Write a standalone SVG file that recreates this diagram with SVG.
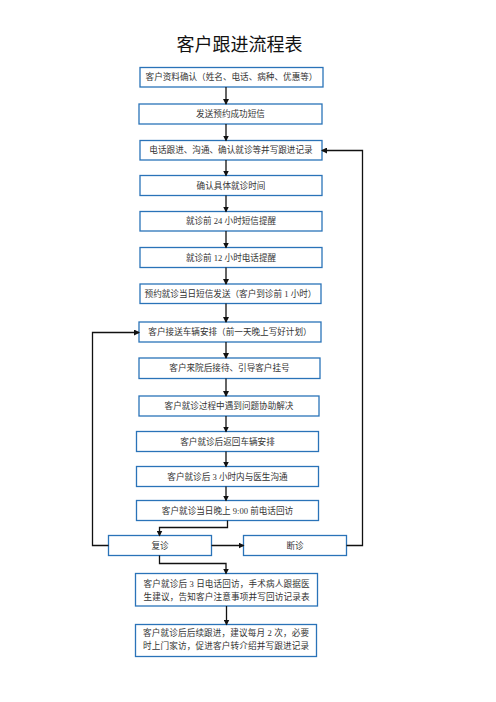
<svg xmlns="http://www.w3.org/2000/svg" width="496" height="702" viewBox="0 0 496 702">
<style>
.box{fill:#fff;stroke:#2a73b8;stroke-width:1.3}
.t{font-family:"Liberation Serif","Noto Sans CJK SC",serif;font-size:8.6px;fill:#333;text-anchor:middle}
.title{font-family:"Noto Sans CJK SC",sans-serif;font-size:18px;fill:#111;text-anchor:middle}
.c{fill:none;stroke:#111;stroke-width:1.3}
</style>
<defs>
<marker id="ah" markerWidth="6" markerHeight="6" refX="5" refY="3" orient="auto" markerUnits="userSpaceOnUse">
<path d="M0,0 L6,3 L0,6 z" fill="#111"/>
</marker>
</defs>
<rect width="496" height="702" fill="#fff"/>
<text class="title" x="239.5" y="51">客户跟进流程表</text>
<g id="n1"><rect class="box" x="140" y="67.5" width="183" height="19.5"/><text class="t" x="231.5" y="80.3">客户资料确认（姓名、电话、病种、优惠等）</text></g>
<g id="n2"><rect class="box" x="139" y="104" width="183" height="20"/><text class="t" x="230.5" y="117">发送预约成功短信</text></g>
<g id="n3"><rect class="box" x="140" y="140.5" width="182" height="19.5"/><text class="t" x="231" y="153.3">电话跟进、沟通、确认就诊等并写跟进记录</text></g>
<g id="n4"><rect class="box" x="140" y="175.5" width="182" height="20"/><text class="t" x="231" y="188.5">确认具体就诊时间</text></g>
<g id="n5"><rect class="box" x="140" y="211.5" width="182" height="19.5"/><text class="t" x="231" y="224.3">就诊前 24 小时短信提醒</text></g>
<g id="n6"><rect class="box" x="140" y="247.5" width="182" height="20"/><text class="t" x="231" y="260.5">就诊前 12 小时电话提醒</text></g>
<g id="n7"><rect class="box" x="140" y="284" width="181" height="19.5"/><text class="t" x="230.5" y="296.8">预约就诊当日短信发送（客户到诊前 1 小时）</text></g>
<g id="n8"><rect class="box" x="139" y="322" width="182" height="20"/><text class="t" x="230" y="335">客户接送车辆安排（前一天晚上写好计划）</text></g>
<g id="n9"><rect class="box" x="139" y="358" width="181" height="20.5"/><text class="t" x="229.5" y="371.2">客户来院后接待、引导客户挂号</text></g>
<g id="n10"><rect class="box" x="139" y="396" width="180" height="20"/><text class="t" x="229" y="409">客户就诊过程中遇到问题协助解决</text></g>
<g id="n11"><rect class="box" x="136.5" y="431.5" width="182" height="20"/><text class="t" x="227.5" y="444.5">客户就诊后返回车辆安排</text></g>
<g id="n12"><rect class="box" x="136.5" y="466.5" width="182" height="20"/><text class="t" x="227.5" y="479.5">客户就诊后 3 小时内与医生沟通</text></g>
<g id="n13"><rect class="box" x="136.5" y="500.5" width="182" height="20"/><text class="t" x="227.5" y="513.5">客户就诊当日晚上 9:00 前电话回访</text></g>
<g id="n14"><rect class="box" x="108.5" y="535.5" width="103" height="20"/><text class="t" x="160" y="548.5">复诊</text></g>
<g id="n15"><rect class="box" x="243.5" y="535.5" width="103" height="20"/><text class="t" x="295" y="548.5">断诊</text></g>
<g id="n16"><rect class="box" x="135.5" y="573.5" width="182" height="32.5"/><text class="t" x="226.5" y="587" textLength="166" lengthAdjust="spacing">客户就诊后 3 日电话回访，手术病人跟据医</text><text class="t" x="226.5" y="599.5" textLength="166" lengthAdjust="spacing">生建议，告知客户注意事项并写回访记录表</text></g>
<g id="n17"><rect class="box" x="135.5" y="624.5" width="181" height="32"/><text class="t" x="226" y="636" textLength="166" lengthAdjust="spacing">客户就诊后后续跟进，建议每月 2 次，必要</text><text class="t" x="226" y="649" textLength="166" lengthAdjust="spacing">时上门家访，促进客户转介绍并写跟进记录</text></g>
<g id="connectors">
<line class="c" x1="226" y1="87" x2="226" y2="104" marker-end="url(#ah)"/>
<line class="c" x1="226" y1="124" x2="226" y2="140.5" marker-end="url(#ah)"/>
<line class="c" x1="226" y1="160" x2="226" y2="175.5" marker-end="url(#ah)"/>
<line class="c" x1="226" y1="195.5" x2="226" y2="211.5" marker-end="url(#ah)"/>
<line class="c" x1="226" y1="231" x2="226" y2="247.5" marker-end="url(#ah)"/>
<line class="c" x1="226" y1="267.5" x2="226" y2="284" marker-end="url(#ah)"/>
<line class="c" x1="226" y1="303.5" x2="226" y2="322" marker-end="url(#ah)"/>
<line class="c" x1="226" y1="342" x2="226" y2="358" marker-end="url(#ah)"/>
<line class="c" x1="226" y1="378.5" x2="226" y2="396" marker-end="url(#ah)"/>
<line class="c" x1="226" y1="416" x2="226" y2="431.5" marker-end="url(#ah)"/>
<line class="c" x1="226" y1="451.5" x2="226" y2="466.5" marker-end="url(#ah)"/>
<line class="c" x1="226" y1="486.5" x2="226" y2="500.5" marker-end="url(#ah)"/>
<polyline class="c" points="227.5,520.5 227.5,527.5 159.5,527.5 159.5,535.5" marker-end="url(#ah)"/>
<polyline class="c" points="159.5,555.5 159.5,563.5 226,563.5 226,573.5" marker-end="url(#ah)"/>
<line class="c" x1="226.5" y1="606" x2="226.5" y2="624.5" marker-end="url(#ah)"/>
<line class="c" x1="211.5" y1="545.5" x2="243.5" y2="545.5" marker-end="url(#ah)"/>
<polyline class="c" points="346.5,545.5 362.5,545.5 362.5,150.5 322,150.5" marker-end="url(#ah)"/>
<polyline class="c" points="108.5,545.5 92.5,545.5 92.5,332.5 139,332.5" marker-end="url(#ah)"/>
</g>
</svg>
